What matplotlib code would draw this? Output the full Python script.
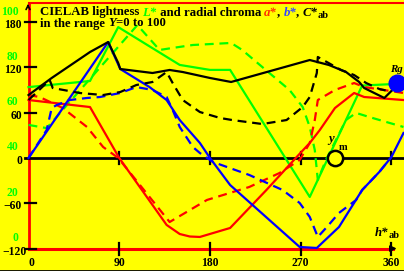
import numpy as np
import matplotlib
matplotlib.use("Agg")
import matplotlib.pyplot as plt
from matplotlib.transforms import IdentityTransform

# hue angle h*ab (deg) and values
# lightness curves are in L* (0..100), chroma curves in C* units
hue_L_solid = [0, 61, 89, 150, 180, 200, 279, 331, 364]
L_solid = [65.3, 68.0, 91.8, 75.1, 72.9, 72.9, 16.8, 66.0, 66.7]

hue_L_dash = [0, 18, 108, 130, 143, 163, 180, 201, 212, 239, 259, 272, 279, 284, 287, 295, 315, 325, 338, 358, 372]
L_dash = [48.6, 47.2, 92.7, 81.7, 82.6, 83.9, 84.3, 84.8, 81.7, 71.5, 64.0, 56.5, 47.7, 37.5, 24.3, 33.1, 50.8, 53.9, 52.1, 49.5, 47.7]

hue_C_solid = [0, 23, 61, 79, 89, 91, 123, 140, 153, 180, 201, 279, 298, 315, 328, 333, 353, 361, 366]
C_solid = [83.4, 106.0, 140.4, 153.6, 125.8, 117.9, 112.6, 116.6, 113.9, 106.0, 100.7, 129.8, 123.2, 113.9, 100.7, 92.7, 79.5, 90.1, 99.3]

hue_C_dash = [0, 21, 24, 51, 74, 91, 107, 123, 137, 143, 153, 170, 190, 202, 232, 256, 272, 279, 286, 287, 310, 323, 335, 348, 357]
C_dash = [76.8, 103.3, 92.7, 86.1, 83.4, 87.4, 96.7, 100.7, 113.9, 99.3, 76.8, 60.9, 53.0, 50.3, 45.0, 50.3, 67.5, 80.8, 112.6, 133.8, 116.6, 109.9, 99.3, 91.4, 88.7]

hue_a_solid = [0, 61, 90, 137, 150, 160, 170, 200, 236, 266, 279, 289, 304, 323, 333, 372]
a_solid = [76.8, 67.5, 0.0, -88.7, -100.7, -104.0, -104.6, -92.7, -42.4, 1.3, 19.9, 37.1, 66.2, 86.1, 80.8, 76.8]

hue_a_dash = [0, 11, 34, 58, 74, 89, 140, 177, 219, 249, 269, 279, 284, 287, 304, 323, 333, 372]
a_dash = [83.4, 80.8, 66.2, 41.1, 14.6, 0.0, -84.8, -55.6, -38.4, -19.9, -2.6, 19.9, 50.3, 76.8, 90.1, 99.3, 94.0, 86.1]

hue_b_solid = [0, 79, 91, 120, 137, 150, 170, 180, 200, 269, 286, 308, 331, 348, 360, 372]
b_solid = [0.0, 153.6, 117.9, 94.0, 76.8, 50.3, 19.9, 0.0, -35.8, -117.9, -119.2, -91.4, -42.4, -18.5, 1.3, 33.1]

hue_b_dash = [0, 18, 23, 28, 41, 58, 71, 91, 107, 123, 137, 143, 150, 163, 170, 183, 219, 252, 269, 279, 287, 296, 308, 325, 331, 348, 360]
b_dash = [0.0, 37.1, 66.2, 70.2, 76.8, 79.5, 80.8, 86.1, 94.0, 90.1, 80.8, 63.6, 41.1, 14.6, 6.6, -5.3, -22.5, -42.4, -59.6, -78.1, -104.6, -91.4, -72.8, -55.6, -42.4, -18.5, 1.3]

c_ticks = [180, 120, 60, 0, -60, -120]
L_ticks = [100, 80, 60, 40, 20, 0]
h_ticks = [0, 90, 180, 270, 360]


def L2C(L):
    # green lightness scale drawn on the chroma axis
    return -102 + 3 * np.asarray(L, dtype=float)


W, H = 404, 271
YEL = '#ffff00'
GRN = '#00ff00'
fig = plt.figure(figsize=(W / 100, H / 100), dpi=100, facecolor=YEL)
ax = fig.add_axes([0, 0, 1, 1])
ax.set_facecolor(YEL)
ax.set_xlim(-28.3, 372.5)
ax.set_ylim(-149.7, 209.3)
ax.axis('off')

lw = 1.6
dash = (0, (4, 2.6))

# frame and axes
ax.plot([0, 0], [-120, 205], color='r', lw=2, zorder=2)
ax.plot([0, 380], [205.5, 205.5], color='r', lw=1.5, zorder=2)
ax.plot([0, 362], [-120, -120], color='r', lw=2.2, zorder=2)
ax.annotate('', xy=(368, -120), xytext=(356, -120),
            arrowprops=dict(arrowstyle='-|>', color='k', lw=1.2, mutation_scale=9))
ax.annotate('', xy=(-0.5, 208), xytext=(-0.5, 196),
            arrowprops=dict(arrowstyle='->', color='k', lw=1.2, mutation_scale=7))
ax.plot([-3.5, 380], [0, 0], color='k', lw=2, zorder=2)
for v in c_ticks:
    if v != 0:
        ax.plot([-3.5, 7], [v, v], color='k', lw=1.6, zorder=3)
for h in h_ticks[1:]:
    ax.plot([h, h], [-8, 8], color='k', lw=1.6, zorder=3)
    ax.plot([h, h], [-128, -112], color='k', lw=1.6, zorder=3)

# curves
ax.plot(hue_L_solid, L2C(L_solid), color=GRN, lw=lw, zorder=4)
ax.plot(hue_L_dash, L2C(L_dash), color=GRN, lw=lw, ls=dash, zorder=4)
ax.plot(hue_a_solid, a_solid, color='r', lw=lw, zorder=4)
ax.plot(hue_a_dash, a_dash, color='r', lw=lw, ls=dash, zorder=4)
ax.plot(hue_b_solid, b_solid, color='b', lw=lw, zorder=5)
ax.plot(hue_b_dash, b_dash, color='b', lw=lw, ls=dash, zorder=5)
ax.plot(hue_C_solid, C_solid, color='k', lw=lw, zorder=5)
ax.plot(hue_C_dash, C_dash, color='k', lw=lw, ls=dash, zorder=5)

# markers
ax.plot([303.8], [0], 'o', ms=11, mfc=YEL, mec='k', mew=1.8, zorder=6)
ax.plot([366], [99.3], 'o', ms=12, mfc='b', mec='b', zorder=6)

# text in pixel coordinates
def put(x, y, s, color='k', size=8, style='normal', ha='left', va='baseline'):
    return fig.text(x, H - y, s, color=color, fontsize=size, fontweight='bold',
                    style=style, family='Liberation Serif', ha=ha, va=va,
                    transform=IdentityTransform(), zorder=7)


def chain(x, y, pieces):
    r = fig.canvas.get_renderer()
    for s, color, style, size, dy in pieces:
        t = put(x, y + dy, s, color, size, style)
        x = t.get_window_extent(r).x1


fs = 9.2
chain(40, 15.5, [('CIELAB lightness ', 'k', 'normal', fs, 0),
                 ('L*', GRN, 'italic', fs, 0),
                 (' and radial chroma ', 'k', 'normal', fs, 0),
                 ('a*', '#ff3000', 'italic', fs, 0),
                 (', ', 'k', 'normal', fs, 0),
                 ('b*', '#3344ff', 'italic', fs, 0),
                 (', ', 'k', 'normal', fs, 0),
                 ('C*', 'k', 'italic', fs, 0),
                 ('ab', 'k', 'normal', fs * 0.8, 2.5)])
chain(40, 26.5, [('in the range ', 'k', 'normal', fs, 0),
                 ('Y', 'k', 'italic', fs, 0),
                 ('=0 to 100', 'k', 'normal', fs, 0)])

ts = 8.4
for v in c_ticks:
    py = 158 - 0.755 * v
    put(22 if v != -120 else 27, py + 3, str(v).replace('-', '\u2212'), size=ts, ha='right', va='center')
for L in L_ticks:
    py = 158 - 0.755 * (-102 + 3 * L)
    put(18.5, py + 3, str(L), color=GRN, size=ts, ha='right', va='center')
for h in h_ticks:
    px = 28.5 + 1.008 * h + (3 if h == 0 else 0)
    put(px, 263, str(h), size=ts, ha='center', va='center')

chain(375, 236, [('h*', 'k', 'italic', fs, 0), ('ab', 'k', 'normal', fs * 0.8, 2.5)])
put(328, 142, 'y', size=fs, style='italic')
put(339, 150, 'm', size=fs * 0.8)
put(390, 72, 'Rg', size=fs * 0.85, style='italic')

fig.add_artist(plt.Line2D([0, 1], [0.5 / H, 0.5 / H], color='k', lw=2,
                          transform=fig.transFigure))

fig.savefig('out.png', dpi=100, facecolor=YEL)
